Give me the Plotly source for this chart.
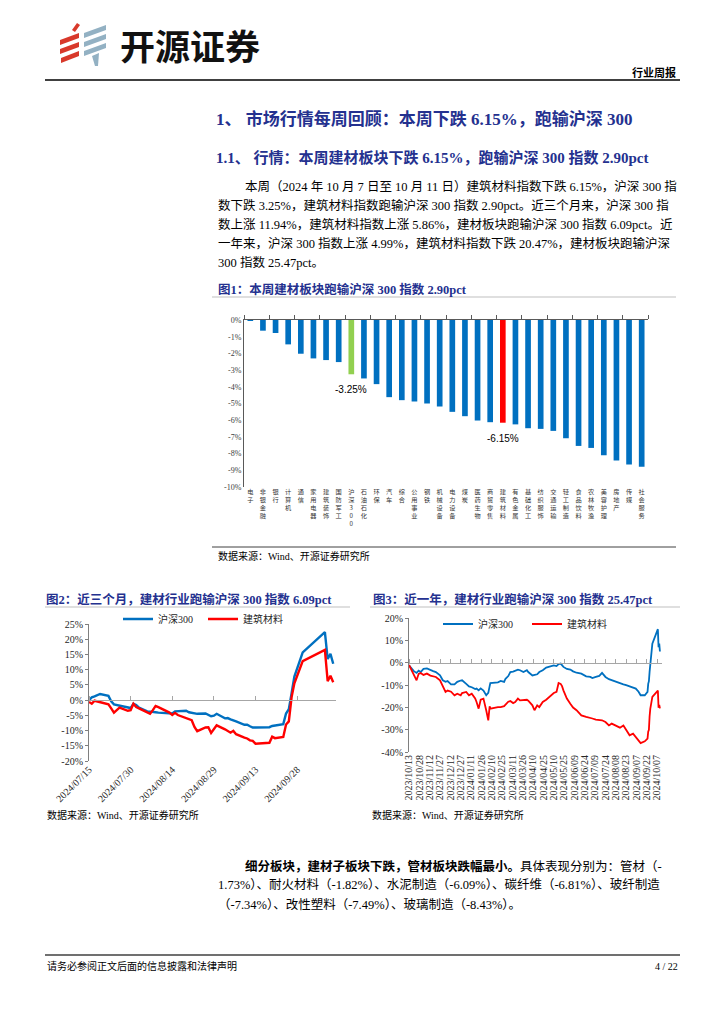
import plotly.graph_objects as go

W, H = 724, 1024
def fx(x): return x / W
def fy(y): return 1 - y / H

# ---------------- data ----------------
bar_categories = ["电子", "非银金融", "银行", "计算机", "通信", "家用电器", "建筑装饰", "国防军工",
                  "沪深300", "石油石化", "环保", "汽车", "综合", "公用事业", "钢铁", "机械设备",
                  "电力设备", "煤炭", "医药生物", "商贸零售", "建筑材料", "有色金属", "基础化工",
                  "纺织服饰", "交通运输", "轻工制造", "食品饮料", "农林牧渔", "美容护理", "房地产",
                  "传媒", "社会服务"]
bar_values = [-0.04, -0.64, -0.78, -1.46, -2.02, -2.30, -2.40, -2.52,
              -3.25, -3.50, -3.84, -4.62, -4.80, -4.88, -5.00, -5.18,
              -5.50, -5.76, -6.02, -6.12, -6.15, -6.25, -6.48,
              -6.52, -6.64, -7.08, -7.54, -7.66, -8.10, -8.42,
              -8.66, -8.78]
bar_labelled = ["沪深300", "建筑材料"]
bar_yticks = [0, -1, -2, -3, -4, -5, -6, -7, -8, -9, -10]

m3_dates = ["2024-07-15", "2024-07-16", "2024-07-17", "2024-07-18", "2024-07-19", "2024-07-22",
            "2024-07-23", "2024-07-24", "2024-07-25", "2024-07-26", "2024-07-29", "2024-07-30",
            "2024-07-31", "2024-08-01", "2024-08-02", "2024-08-05", "2024-08-06", "2024-08-07",
            "2024-08-08", "2024-08-09", "2024-08-12", "2024-08-13", "2024-08-14", "2024-08-15",
            "2024-08-16", "2024-08-19", "2024-08-20", "2024-08-21", "2024-08-22", "2024-08-23",
            "2024-08-26", "2024-08-27", "2024-08-28", "2024-08-29", "2024-08-30", "2024-09-02",
            "2024-09-03", "2024-09-04", "2024-09-05", "2024-09-06", "2024-09-09", "2024-09-10",
            "2024-09-11", "2024-09-12", "2024-09-13", "2024-09-18", "2024-09-19", "2024-09-20",
            "2024-09-23", "2024-09-24", "2024-09-25", "2024-09-26", "2024-09-27", "2024-09-30",
            "2024-10-08", "2024-10-09", "2024-10-10", "2024-10-11"]
m3_hs300 = [0.0, 0.9, 1.2, 1.6, 2.0, 1.4,
            -0.4, -1.4, -1.6, -1.9, -2.3, -2.6,
            -1.2, -1.6, -2.5, -3.7, -3.8, -4.0,
            -4.0, -4.1, -4.2, -4.2, -4.4, -3.7,
            -3.6, -3.5, -4.0, -4.2, -4.5, -4.5,
            -4.4, -4.8, -5.3, -5.1, -4.5, -6.0,
            -5.9, -6.3, -6.6, -7.0, -8.1, -8.1,
            -8.6, -9.0, -9.0, -8.9, -8.5, -8.3,
            -7.9, -4.4, -3.0, 2.3, 7.7, 15.7,
            22.3, 13.5, 15.2, 11.94]
m3_jzcl = [-0.6, -1.2, -0.2, -0.4, -0.8, -1.4,
           -2.7, -4.1, -3.3, -2.5, -3.5, -3.3,
           -1.2, -2.3, -2.7, -4.2, -4.5, -3.3,
           -1.9, -2.3, -3.6, -4.1, -4.9, -4.2,
           -4.9, -6.0, -6.3, -6.6, -8.8, -10.2,
           -9.0, -8.9, -10.8, -9.6, -8.3, -9.6,
           -10.1, -10.7, -10.1, -11.2, -12.3, -12.6,
           -13.2, -13.4, -14.3, -14.0, -12.0, -12.5,
           -12.1, -8.0, -7.0, 1.0, 5.5, 12.8,
           16.5, 6.2, 8.0, 5.86]
m3_ticklabels = ["2024/07/15", "2024/07/30", "2024/08/14", "2024/08/29", "2024/09/13", "2024/09/28"]
m3_yticks = [25, 20, 15, 10, 5, 0, -5, -10, -15, -20]

y1_dates = ["2023-10-13", "2023-10-17", "2023-10-20", "2023-10-24", "2023-10-27", "2023-10-30",
            "2023-11-03", "2023-11-08", "2023-11-13", "2023-11-17", "2023-11-21", "2023-11-27",
            "2023-12-01", "2023-12-05", "2023-12-08", "2023-12-13", "2023-12-18", "2023-12-22",
            "2023-12-27", "2023-12-29", "2024-01-04", "2024-01-08", "2024-01-12", "2024-01-17",
            "2024-01-19", "2024-01-22", "2024-01-25", "2024-01-29", "2024-02-02", "2024-02-05",
            "2024-02-07", "2024-02-08", "2024-02-19", "2024-02-23", "2024-02-28", "2024-03-01",
            "2024-03-05", "2024-03-08", "2024-03-12", "2024-03-15", "2024-03-19", "2024-03-22",
            "2024-03-27", "2024-04-01", "2024-04-03", "2024-04-09", "2024-04-12", "2024-04-16",
            "2024-04-19", "2024-04-24", "2024-04-29", "2024-05-06", "2024-05-10", "2024-05-14",
            "2024-05-17", "2024-05-20", "2024-05-22", "2024-05-24", "2024-05-29", "2024-06-03",
            "2024-06-07", "2024-06-12", "2024-06-19", "2024-06-26", "2024-07-02", "2024-07-05",
            "2024-07-10", "2024-07-15", "2024-07-19", "2024-07-24", "2024-07-29", "2024-08-02",
            "2024-08-09", "2024-08-14", "2024-08-19", "2024-08-23", "2024-08-28", "2024-09-02",
            "2024-09-06", "2024-09-10", "2024-09-13", "2024-09-19", "2024-09-23", "2024-09-24",
            "2024-09-25", "2024-09-26", "2024-09-27", "2024-09-30", "2024-10-08", "2024-10-09",
            "2024-10-10", "2024-10-11"]
y1_hs300 = [-1.2, -2.6, -3.8, -4.6, -3.6, -4.2,
            -2.8, -2.6, -3.4, -3.8, -4.2, -5.7,
            -7.9, -8.6, -8.2, -9.7, -9.7, -8.6,
            -8.0, -7.9, -9.5, -10.6, -11.0, -11.8,
            -11.6, -12.4, -11.5, -12.5, -14.6, -13.5,
            -10.5, -9.1, -8.8, -8.2, -8.6, -7.2,
            -6.0, -4.2, -4.0, -3.7, -3.1, -3.4,
            -4.2, -3.4, -4.2, -5.7, -5.6, -5.2,
            -4.2, -3.4, -2.2, -1.5, -1.2, -1.5,
            -0.6, -0.4, -1.2, -1.9, -2.8, -3.1,
            -3.9, -4.5, -4.9, -6.1, -6.4, -6.9,
            -6.4, -5.9, -4.6, -6.4, -7.4, -7.9,
            -8.7, -9.2, -9.7, -10.1, -10.6, -11.2,
            -11.6, -13.0, -14.6, -14.6, -13.1, -9.5,
            -8.3, -4.1, 0.0, 8.5, 15.0, 6.9,
            8.5, 5.0]
y1_jzcl = [-1.0, -3.5, -6.0, -7.9, -5.0, -4.6,
           -5.5, -4.9, -5.8, -6.1, -6.4, -7.9,
           -10.9, -13.1, -12.5, -13.0, -14.6, -13.9,
           -14.6, -13.6, -13.1, -14.6, -13.9, -16.0,
           -17.6, -20.6, -16.6, -16.1, -21.3, -25.8,
           -19.5, -20.6, -19.9, -19.9, -19.5, -18.7,
           -17.5, -17.2, -18.1, -17.6, -16.1, -16.9,
           -16.9, -16.6, -17.0, -19.1, -21.3, -19.1,
           -19.9, -17.6, -16.6, -14.6, -13.6, -13.1,
           -9.1, -9.5, -10.5, -12.4, -16.1, -18.4,
           -20.1, -21.3, -23.6, -24.3, -24.6, -25.0,
           -25.5, -25.5, -25.8, -26.6, -28.1, -27.3,
           -28.5, -29.1, -28.1, -30.3, -32.5, -31.8,
           -33.3, -34.8, -36.0, -35.2, -34.0, -30.9,
           -30.1, -24.1, -20.7, -15.3, -12.5, -20.2,
           -18.9, -20.47]
y1_ticklabels = ["2023/10/13", "2023/10/28", "2023/11/12", "2023/11/27", "2023/12/12", "2023/12/27",
                 "2024/01/11", "2024/01/26", "2024/02/10", "2024/02/25", "2024/03/11", "2024/03/26",
                 "2024/04/10", "2024/04/25", "2024/05/10", "2024/05/25", "2024/06/09", "2024/06/24",
                 "2024/07/09", "2024/07/24", "2024/08/08", "2024/08/23", "2024/09/07", "2024/09/22",
                 "2024/10/07"]
y1_yticks = [20, 10, 0, -10, -20, -30, -40]

series_names = ["沪深300", "建筑材料"]

# ---------------- styles ----------------
BLUE = "#0070C0"
RED = "#FF0000"
GREEN = "#92D050"
NAVY = "#24318F"
SERIF = "Liberation Serif, Noto Sans CJK SC"
CJK = "Noto Sans CJK SC"

fig = go.Figure()

# ---- Figure 1: bar chart ----
bar_colors = [GREEN if c == "沪深300" else RED if c == "建筑材料" else BLUE for c in bar_categories]
fig.add_trace(go.Bar(x=bar_categories, y=bar_values, marker=dict(color=bar_colors, line=dict(width=0)),
                     xaxis="x", yaxis="y", showlegend=False, hoverinfo="skip"))
fig.add_trace(go.Scatter(x=bar_categories, y=[0] * len(bar_categories), mode="markers",
                         marker=dict(opacity=0, size=1), xaxis="x2", yaxis="y",
                         showlegend=False, hoverinfo="skip"))

# ---- Figure 2: 3 months ----
for name, vals, col in zip(series_names, [m3_hs300, m3_jzcl], [BLUE, RED]):
    fig.add_trace(go.Scatter(x=m3_dates, y=vals, mode="lines", name=name,
                             line=dict(color=col, width=2.4), xaxis="x3", yaxis="y3",
                             legend="legend", hoverinfo="skip"))
fig.add_trace(go.Scatter(x=[m3_dates[0]], y=[0], mode="markers", marker=dict(opacity=0, size=1),
                         xaxis="x4", yaxis="y3", showlegend=False, hoverinfo="skip"))

# ---- Figure 3: 1 year ----
for name, vals, col in zip(series_names, [y1_hs300, y1_jzcl], [BLUE, RED]):
    fig.add_trace(go.Scatter(x=y1_dates, y=vals, mode="lines", name=name,
                             line=dict(color=col, width=1.8), xaxis="x5", yaxis="y5",
                             legend="legend2", hoverinfo="skip"))
fig.add_trace(go.Scatter(x=[y1_dates[0]], y=[0], mode="markers", marker=dict(opacity=0, size=1),
                         xaxis="x6", yaxis="y5", showlegend=False, hoverinfo="skip"))

# ---------------- axes ----------------
n = len(bar_categories)
bar_dom_x = [fx(244), fx(648)]
bar_dom_y = [fy(487), fy(320)]
stacked = ["<br>".join(list(c)) for c in bar_categories]

m2_dom_x = [fx(89), fx(336)]
m2_dom_y = [fy(761), fy(624)]
m2_range = ["2024-07-15", "2024-10-12"]
m2_ymin, m2_ymax = -20, 25
zero2 = m2_dom_y[0] + (0 - m2_ymin) / (m2_ymax - m2_ymin) * (m2_dom_y[1] - m2_dom_y[0])
m3_tickvals = [t.replace("/", "-") for t in m3_ticklabels]

m3_dom_x = [fx(409), fx(662)]
m3_dom_y = [fy(752), fy(618)]
y1_range = ["2023-10-13", "2024-10-14"]
y1_ymin, y1_ymax = -40, 20
zero3 = m3_dom_y[0] + (0 - y1_ymin) / (y1_ymax - y1_ymin) * (m3_dom_y[1] - m3_dom_y[0])
y1_tickvals = [t.replace("/", "-") for t in y1_ticklabels]

axis_gray = "#7F7F7F"
tick_font = dict(family=SERIF, size=10, color="#262626")

fig.update_layout(
    template="none",
    xaxis=dict(domain=bar_dom_x, anchor="y", type="category", categoryorder="array",
               categoryarray=bar_categories, range=[-0.5, n - 0.5], tickmode="array",
               tickvals=bar_categories, ticktext=stacked,
               tickfont=dict(family=CJK, size=6.2, color="#333333"),
               showline=False, ticks="", showgrid=False, zeroline=False, automargin=False),
    xaxis2=dict(overlaying="x", side="top", anchor="y", type="category", categoryorder="array",
                categoryarray=bar_categories, range=[-0.5, n - 0.5], tickson="boundaries",
                ticks="outside", ticklen=4, tickcolor="#595959", showline=True,
                linecolor="#595959", linewidth=1, showticklabels=False, showgrid=False,
                zeroline=False, automargin=False),
    yaxis=dict(domain=bar_dom_y, anchor="x", range=[-10, 0], tickmode="array",
               tickvals=bar_yticks, ticktext=[f"{v}%" for v in bar_yticks],
               tickfont=dict(family=SERIF, size=8, color="#404040"), showline=True,
               linecolor="#595959", ticks="", showgrid=False, zeroline=False, automargin=False),
    bargap=0.55,

    xaxis3=dict(domain=m2_dom_x, anchor="y3", type="date", range=m2_range, tickmode="array",
                tickvals=m3_tickvals, ticktext=m3_ticklabels, tickangle=-45, tickfont=tick_font,
                showline=False, ticks="", showgrid=False, zeroline=False, automargin=False),
    xaxis4=dict(overlaying="x3", anchor="free", position=zero2, side="top", type="date",
                range=m2_range, tickmode="array", tickvals=m3_tickvals, ticks="outside",
                ticklen=4, tickcolor="#A6A6A6", showline=True, linecolor="#A6A6A6",
                showticklabels=False, showgrid=False, zeroline=False, automargin=False),
    yaxis3=dict(domain=m2_dom_y, anchor="x3", range=[m2_ymin, m2_ymax], tickmode="array",
                tickvals=m3_yticks, ticktext=[f"{v}%" for v in m3_yticks], tickfont=tick_font,
                showline=True, linecolor=axis_gray, ticks="outside", ticklen=3,
                tickcolor=axis_gray, showgrid=False, zeroline=False, automargin=False),

    xaxis5=dict(domain=m3_dom_x, anchor="y5", type="date", range=y1_range, tickmode="array",
                tickvals=y1_tickvals, ticktext=y1_ticklabels, tickangle=-90, tickfont=tick_font,
                showline=False, ticks="", showgrid=False, zeroline=False, automargin=False),
    xaxis6=dict(overlaying="x5", anchor="free", position=zero3, side="top", type="date",
                range=y1_range, tickmode="array", tickvals=y1_tickvals, ticks="outside",
                ticklen=4, tickcolor="#A6A6A6", showline=True, linecolor="#A6A6A6",
                showticklabels=False, showgrid=False, zeroline=False, automargin=False),
    yaxis5=dict(domain=m3_dom_y, anchor="x5", range=[y1_ymin, y1_ymax], tickmode="array",
                tickvals=y1_yticks, ticktext=[f"{v}%" for v in y1_yticks], tickfont=tick_font,
                showline=True, linecolor=axis_gray, ticks="outside", ticklen=3,
                tickcolor=axis_gray, showgrid=False, zeroline=False, automargin=False),

    legend=dict(orientation="h", x=fx(203), xanchor="center", y=fy(619), yanchor="middle",
                font=dict(family=SERIF, size=10, color="#262626"), bgcolor="rgba(0,0,0,0)",
                itemwidth=30, entrywidth=40),
    legend2=dict(orientation="h", x=fx(527), xanchor="center", y=fy(624), yanchor="middle",
                 font=dict(family=SERIF, size=10, color="#262626"), bgcolor="rgba(0,0,0,0)",
                 itemwidth=30, entrywidth=44),
    width=W, height=H, margin=dict(l=0, r=0, t=0, b=0, pad=0, autoexpand=False),
    paper_bgcolor="white", plot_bgcolor="white", showlegend=True,
)

# ---------------- text ----------------
ann = []
def text(x, y, s, size, color="#000000", family=SERIF, xanchor="left", yanchor="middle"):
    ann.append(dict(x=fx(x), y=fy(y), xref="paper", yref="paper", text=s, showarrow=False,
                    xanchor=xanchor, yanchor=yanchor, font=dict(family=family, size=size, color=color)))

# header
text(118, 44, "<b>开源证券</b>", 35, "#111111", CJK)
text(678, 72, "<b>行业周报</b>", 11, "#000000", SERIF, xanchor="right")

text(214, 119, "<b>1、 市场行情每周回顾：本周下跌 6.15%，跑输沪深 300</b>", 17, NAVY)
text(214, 157, "<b>1.1、 行情：本周建材板块下跌 6.15%，跑输沪深 300 指数 2.90pct</b>", 15, NAVY)

para = ["本周（2024 年 10 月 7 日至 10 月 11 日）建筑材料指数下跌 6.15%，沪深 300 指",
        "数下跌 3.25%，建筑材料指数跑输沪深 300 指数 2.90pct。近三个月来，沪深 300 指",
        "数上涨 11.94%，建筑材料指数上涨 5.86%，建材板块跑输沪深 300 指数 6.09pct。近",
        "一年来，沪深 300 指数上涨 4.99%，建筑材料指数下跌 20.47%，建材板块跑输沪深",
        "300 指数 25.47pct。"]
for i, s in enumerate(para):
    text(243 if i == 0 else 216, 186 + 19.2 * i, s, 12.5)

text(216, 289, "<b>图1：本周建材板块跑输沪深 300 指数 2.90pct</b>", 12.5, NAVY)
text(216, 556, "数据来源：Wind、开源证券研究所", 10)

text(44, 599, "<b>图2：近三个月，建材行业跑输沪深 300 指数 6.09pct</b>", 12.5, NAVY)
text(371, 599, "<b>图3：近一年，建材行业跑输沪深 300 指数 25.47pct</b>", 12.5, NAVY)
text(45, 815, "数据来源：Wind、开源证券研究所", 10)
text(370, 815, "数据来源：Wind、开源证券研究所", 10)

bottom = ["<b>细分板块，建材子板块下跌，管材板块跌幅最小。</b>具体表现分别为：管材（-",
          "1.73%）、耐火材料（-1.82%）、水泥制造（-6.09%）、碳纤维（-6.81%）、玻纤制造",
          "（-7.34%）、改性塑料（-7.49%）、玻璃制造（-8.43%）。"]
for i, s in enumerate(bottom):
    text(243 if i == 0 else 216, 866 + 19.2 * i, s, 12.5)

text(45, 966, "请务必参阅正文后面的信息披露和法律声明", 10)
text(680, 966, "4 / 22", 10, xanchor="right")

# bar data labels
for c in bar_labelled:
    v = bar_values[bar_categories.index(c)]
    ann.append(dict(x=c, y=v, xref="x", yref="y", text=f"{v:.2f}%", showarrow=False,
                    xanchor="center", yanchor="top", yshift=-8,
                    font=dict(family="Liberation Sans", size=10, color="#000000")))

fig.update_layout(annotations=ann)

# ---------------- shapes ----------------
shapes = []
def hline(x0, x1, y, color, width):
    shapes.append(dict(type="line", xref="paper", yref="paper", x0=fx(x0), x1=fx(x1),
                       y0=fy(y), y1=fy(y), line=dict(color=color, width=width)))

hline(45, 680, 80, "#000000", 1.5)
hline(212, 676, 297, "#BFBFBF", 1)
hline(212, 676, 547, "#404040", 1)
hline(45, 350, 607, "#BFBFBF", 1)
hline(370, 680, 607, "#BFBFBF", 1)
hline(45, 680, 955, "#404040", 1.5)

def poly(pts, color):
    d = "M " + " L ".join(f"{fx(x):.5f},{fy(y):.5f}" for x, y in pts) + " Z"
    shapes.append(dict(type="path", xref="paper", yref="paper", path=d,
                       fillcolor=color, line=dict(width=0)))

LOGO_RED = "#D8392B"
LOGO_BLUE = "#93B1C3"
poly([(72, 30), (77, 23), (80, 25), (75, 32)], LOGO_RED)
poly([(60, 40), (79, 33), (79, 38), (60, 45)], LOGO_RED)
poly([(60, 49), (79, 42), (79, 47), (60, 54)], LOGO_RED)
poly([(61, 58), (79, 51), (79, 56), (61, 63)], LOGO_RED)
poly([(84, 33), (106, 25), (106, 30), (84, 38)], LOGO_BLUE)
poly([(84, 42), (106, 34), (106, 39), (84, 47)], LOGO_BLUE)
poly([(84, 51), (106, 43), (106, 48), (84, 56)], LOGO_BLUE)
poly([(92, 56), (99, 53), (98, 66), (95, 66)], LOGO_BLUE)

fig.update_layout(shapes=shapes)

fig.write_html("out.html", config={"displayModeBar": False},
               post_script="document.body.style.margin='0';")
